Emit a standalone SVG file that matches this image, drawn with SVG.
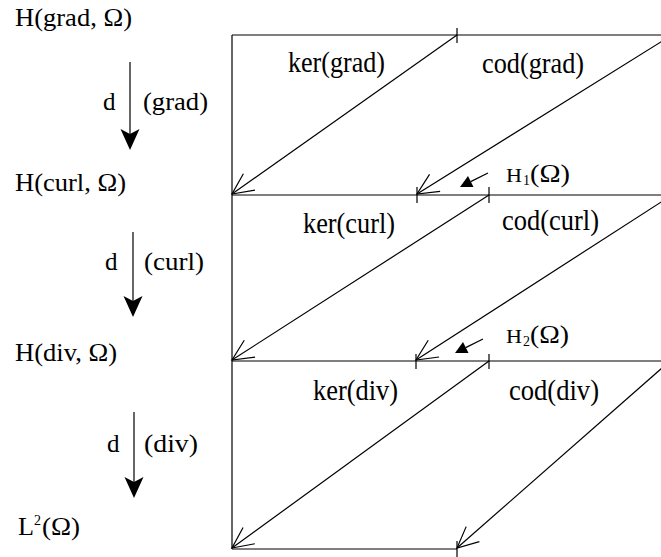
<svg xmlns="http://www.w3.org/2000/svg" width="661" height="557" viewBox="0 0 661 557">
<style>
.ln{stroke:#000;stroke-width:1.2;fill:none}
.dg{stroke:#000;stroke-width:1.2;fill:none;marker-end:url(#v)}
.t{font-family:"Liberation Serif","Times New Roman",serif;font-size:25px;fill:#000}
.sup{font-family:"Liberation Serif","Times New Roman",serif;font-size:14px;fill:#000}
.ti{font-family:"Liberation Serif","Times New Roman",serif;font-size:30px;fill:#000}
.m{font-family:"Liberation Serif","Times New Roman",serif;font-size:19px;fill:#000}
.ms{font-family:"Liberation Serif","Times New Roman",serif;font-size:14px;fill:#000}
.hd{fill:#000;stroke:none}
</style>
<defs>
<marker id="v" markerUnits="userSpaceOnUse" markerWidth="30" markerHeight="30" refX="0" refY="0" orient="auto" overflow="visible">
<path d="M-21,-10 L0,0 L-21,10" fill="none" stroke="#000" stroke-width="1.2"/>
</marker>
</defs>
<rect width="661" height="557" fill="#fff"/>

<g id="connectors">
<path class="ln" d="M232,35 V549"/>
<path class="ln" d="M232,35 H672"/>
<path class="ln" d="M232,195 H672"/>
<path class="ln" d="M232,361 H672"/>
<path class="ln" d="M232,549 H457"/>
<path class="ln" d="M457,28 V43 M417,187 V203 M489,187 V203 M416,354 V369 M489,354 V369 M457,541 V557"/>
<path class="dg" d="M457,35 L232,194"/>
<path class="dg" d="M672,35 L417,194"/>
<path class="dg" d="M489,195 L232,360"/>
<path class="dg" d="M672,195 L416,360"/>
<path class="dg" d="M489,361 L232,548"/>
<path class="dg" d="M670,361 L457,548"/>
<path class="ln" d="M130,62 V140"/>
<path class="hd" d="M130,150 L120.5,129 L130,134 L139.5,129 Z"/>
<path class="ln" d="M133,232 V308"/>
<path class="hd" d="M133,317 L123.5,296 L133,301 L142.5,296 Z"/>
<path class="ln" d="M134,412 V489"/>
<path class="hd" d="M134,498 L124.5,477 L134,482 L143.5,477 Z"/>
<path class="ln" d="M488,173 L470.7,181.6"/>
<path class="hd" d="M460,187 L468,176 L473.5,187 Z"/>
<path class="ln" d="M483,339 L465.7,347.6"/>
<path class="hd" d="M455,353 L463,342 L468.5,353 Z"/>
</g>

<g id="n-hgrad"><text class="t" x="15" y="26" textLength="117" lengthAdjust="spacingAndGlyphs">H(grad, Ω)</text></g>
<g id="n-hcurl"><text class="t" x="15" y="191" textLength="111" lengthAdjust="spacingAndGlyphs">H(curl, Ω)</text></g>
<g id="n-hdiv"><text class="t" x="15" y="361" textLength="102" lengthAdjust="spacingAndGlyphs">H(div, Ω)</text></g>
<g id="n-l2"><text class="t" x="18" y="535" textLength="16" lengthAdjust="spacingAndGlyphs">L</text><text class="sup" x="34" y="525">2</text><text class="t" x="42" y="535" textLength="38" lengthAdjust="spacingAndGlyphs">(Ω)</text></g>

<g id="n-dgrad"><text class="t" x="103" y="110">d</text><text class="t" x="143" y="110" textLength="65" lengthAdjust="spacingAndGlyphs">(grad)</text></g>
<g id="n-dcurl"><text class="t" x="105" y="270">d</text><text class="t" x="144" y="270" textLength="60" lengthAdjust="spacingAndGlyphs">(curl)</text></g>
<g id="n-ddiv"><text class="t" x="107" y="452">d</text><text class="t" x="144" y="452" textLength="54" lengthAdjust="spacingAndGlyphs">(div)</text></g>

<g id="n-kergrad"><text class="ti" x="288" y="72" textLength="97" lengthAdjust="spacingAndGlyphs">ker(grad)</text></g>
<g id="n-codgrad"><text class="ti" x="482" y="73" textLength="102" lengthAdjust="spacingAndGlyphs">cod(grad)</text></g>
<g id="n-kercurl"><text class="ti" x="303" y="233" textLength="92" lengthAdjust="spacingAndGlyphs">ker(curl)</text></g>
<g id="n-codcurl"><text class="ti" x="502" y="230" textLength="97" lengthAdjust="spacingAndGlyphs">cod(curl)</text></g>
<g id="n-kerdiv"><text class="ti" x="313" y="400" textLength="85" lengthAdjust="spacingAndGlyphs">ker(div)</text></g>
<g id="n-coddiv"><text class="ti" x="509" y="400" textLength="90" lengthAdjust="spacingAndGlyphs">cod(div)</text></g>

<g id="n-h1"><text class="m" x="506" y="182" textLength="16" lengthAdjust="spacingAndGlyphs">H</text><text class="ms" x="523" y="185">1</text><text class="t" x="530" y="182" textLength="40" lengthAdjust="spacingAndGlyphs">(Ω)</text></g>
<g id="n-h2"><text class="m" x="506" y="343" textLength="16" lengthAdjust="spacingAndGlyphs">H</text><text class="ms" x="523" y="346">2</text><text class="t" x="530" y="343" textLength="39" lengthAdjust="spacingAndGlyphs">(Ω)</text></g>
</svg>
